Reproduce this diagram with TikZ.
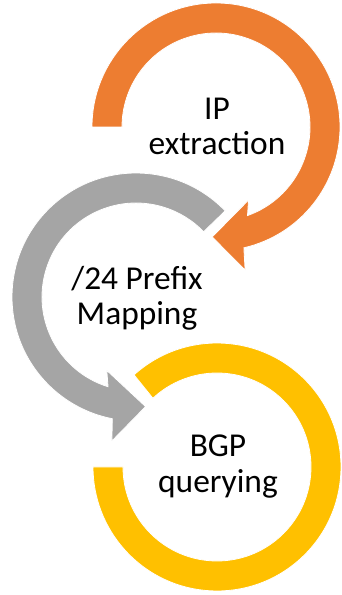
\documentclass[tikz,border=0pt]{standalone}
\usepackage{fontspec}
\setmainfont{Carlito}
\definecolor{cOrange}{HTML}{ED7D31}
\definecolor{cGray}{HTML}{A5A5A5}
\definecolor{cYellow}{HTML}{FFC000}
\begin{document}
\begin{tikzpicture}[x=1pt,y=1pt,
  ringshape/.style={draw=white,line width=0.8pt,line join=miter},
  lbl/.style={anchor=base,inner sep=0pt,font=\fontsize{33.4}{36}\selectfont,text=black}]
\useasboundingbox (0,0) rectangle (341,595);
\coordinate (co) at (216,468);
\coordinate (cg) at (136,298);
\coordinate (cy) at (217,128);
% yellow ring
\fill[cYellow,ringshape] ([shift={(132:124)}]cy) arc[start angle=132,end angle=-180,radius=124]
  -- ([shift={(180:94)}]cy) arc[start angle=-180,end angle=133,radius=94] -- cycle;
% gray arrow
\fill[cGray,ringshape] ([shift={(44:124)}]cg) arc[start angle=44,end angle=259,radius=124]
  -- ([shift={(260.5:146)}]cg) -- ([shift={(275:110)}]cg) -- ([shift={(248.3:79)}]cg)
  -- ([shift={(252.7:94)}]cg) arc[start angle=252.7,end angle=44,radius=94] -- cycle;
% orange arrow
\fill[cOrange,ringshape] ([shift={(180:124)}]co) arc[start angle=180,end angle=-77,radius=124]
  -- ([shift={(-78.5:146)}]co) -- ([shift={(-92:110)}]co) -- ([shift={(-66:80)}]co)
  -- ([shift={(-70.4:94)}]co) arc[start angle=-70.4,end angle=180,radius=94] -- cycle;
% labels
\node[lbl] (t1a) at (217,475.7) {IP};
\node[lbl] (t1b) at (217,440) {extraction};
\node[lbl] (t2a) at (137,305) {/24 Prefix};
\node[lbl] (t2b) at (137,270) {Mapping};
\node[lbl] (t3a) at (218,138.3) {BGP};
\node[lbl] (t3b) at (218,102) {querying};
\end{tikzpicture}
\end{document}
